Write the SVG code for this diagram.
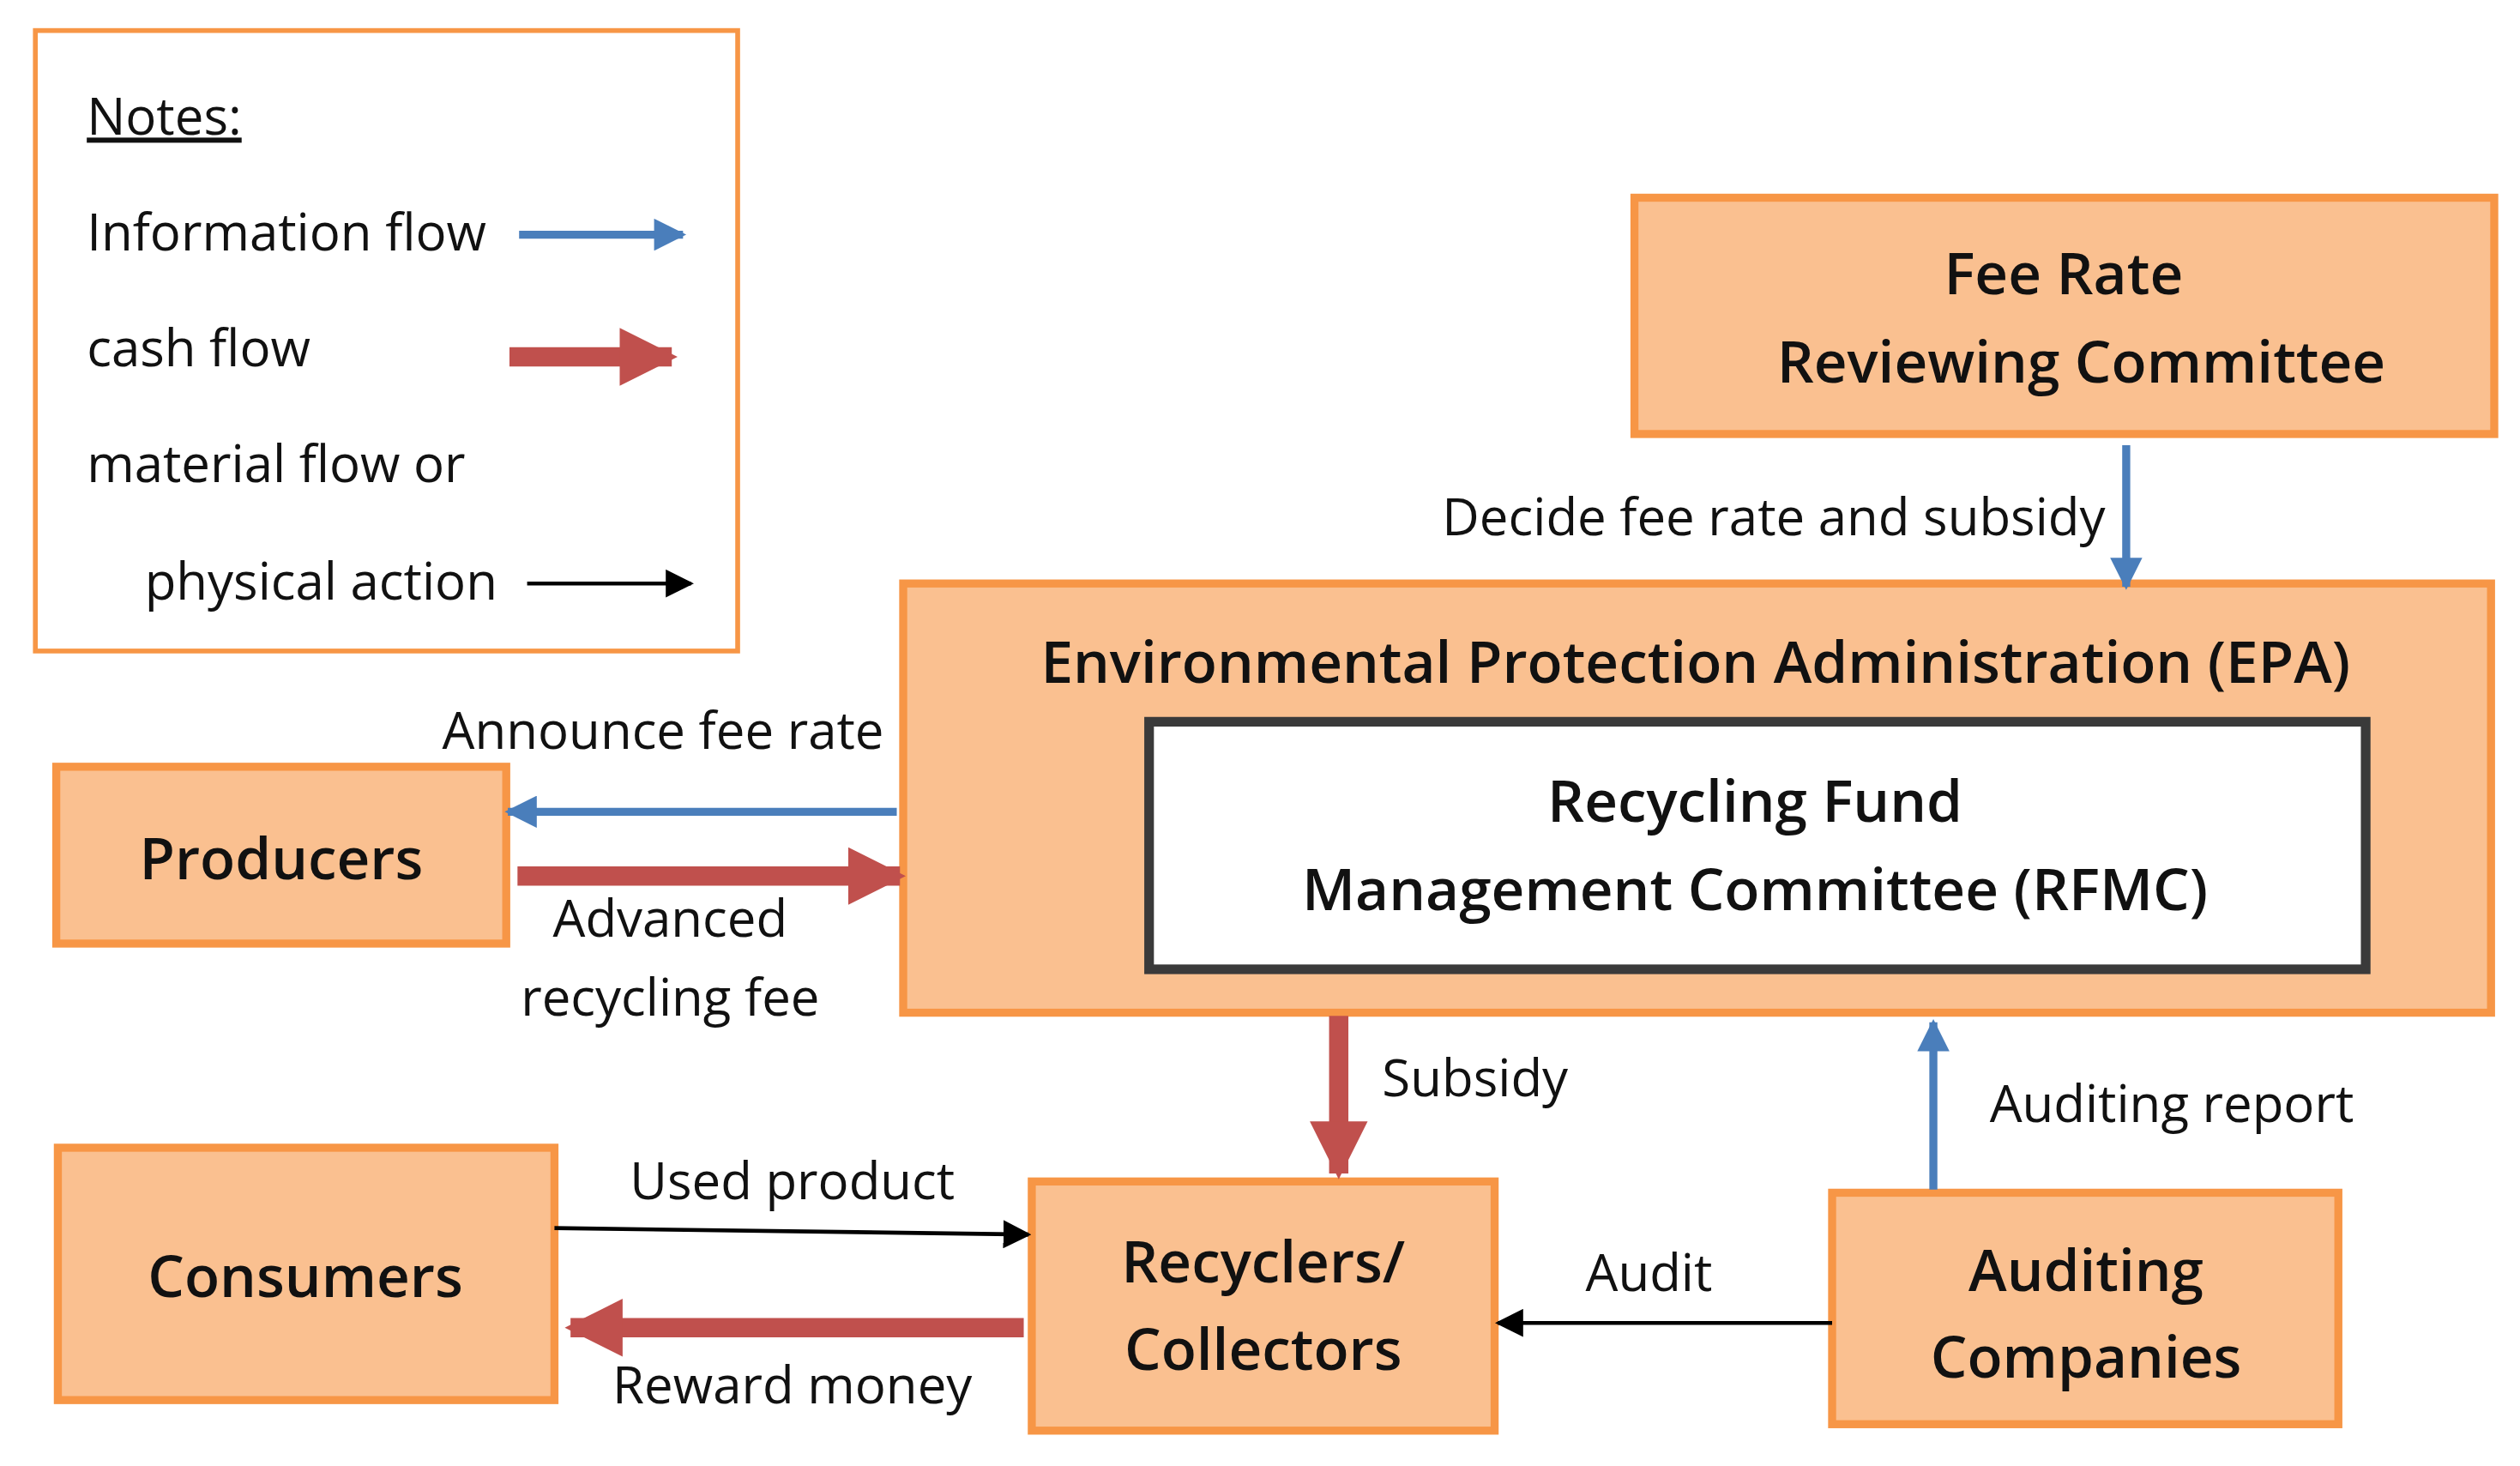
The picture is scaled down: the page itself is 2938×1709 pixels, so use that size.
<svg xmlns="http://www.w3.org/2000/svg" width="2938" height="1709" viewBox="0 0 2938 1709">
<style>
.box{fill:#FAC090;stroke:#F79646;stroke-width:5}
text{font-family:"Open Sans","Liberation Sans",sans-serif;fill:#111}
.t{font-size:36px;font-weight:600;text-anchor:middle}
.l{font-size:32px}
.blue{stroke:#4A7EBB;stroke-width:5;fill:none}
.red{stroke:#C0504D;stroke-width:12;fill:none}
.blk{stroke:#000;stroke-width:2.5;fill:none}
</style>
<defs>
<marker id="mb" viewBox="0 0 10 10" refX="9" refY="5" markerWidth="4.5" markerHeight="4" markerUnits="strokeWidth" orient="auto"><path d="M0,0L10,5L0,10z" fill="#4A7EBB"/></marker>
<marker id="mr" viewBox="0 0 10 10" refX="9" refY="5" markerWidth="3" markerHeight="3" markerUnits="strokeWidth" orient="auto"><path d="M0,0L10,5L0,10z" fill="#C0504D"/></marker>
<marker id="mk" viewBox="0 0 10 10" refX="9" refY="5" markerWidth="7" markerHeight="7" markerUnits="strokeWidth" orient="auto"><path d="M0,0L10,5L0,10z" fill="#000"/></marker>
</defs>
<rect width="2938" height="1709" fill="#fff"/>
<g transform="scale(1.8737,1.8739)">
<g id="legend">
<rect x="22" y="19" width="437" height="386" fill="#fff" stroke="#F79646" stroke-width="3"/>
<text class="l" x="54" y="84" text-decoration="underline">Notes:</text>
<text class="l" x="54" y="156">Information flow</text>
<text class="l" x="54" y="228">cash flow</text>
<text class="l" x="54" y="300">material flow or</text>
<text class="l" x="90" y="373">physical action</text>
<line class="blue" x1="323" y1="146" x2="425" y2="146" marker-end="url(#mb)"/>
<line class="red" x1="317" y1="222" x2="418" y2="222" marker-end="url(#mr)"/>
<line class="blk" x1="328" y1="363" x2="430" y2="363" marker-end="url(#mk)"/>
</g>
<g id="feerate">
<rect class="box" x="1017" y="123" width="535" height="147"/>
<text class="t" x="1284" y="183">Fee Rate</text>
<text class="t" x="1295" y="238">Reviewing Committee</text>
</g>
<g id="epa">
<rect class="box" x="562" y="363" width="988" height="267"/>
<text class="t" x="1055" y="425">Environmental Protection Administration (EPA)</text>
</g>
<g id="rfmc">
<rect x="715" y="449" width="757" height="154" fill="#fff" stroke="#3A3A3A" stroke-width="6"/>
<text class="t" x="1092" y="511">Recycling Fund</text>
<text class="t" x="1092" y="566">Management Committee (RFMC)</text>
</g>
<g id="producers">
<rect class="box" x="35" y="477" width="280" height="110"/>
<text class="t" x="175" y="547">Producers</text>
</g>
<g id="consumers">
<rect class="box" x="36" y="714" width="309" height="157"/>
<text class="t" x="190" y="807">Consumers</text>
</g>
<g id="recyclers">
<rect class="box" x="642" y="735" width="288" height="155"/>
<text class="t" x="786" y="798">Recyclers/</text>
<text class="t" x="786" y="852">Collectors</text>
</g>
<g id="auditing">
<rect class="box" x="1140" y="742" width="315" height="144"/>
<text class="t" x="1298" y="803">Auditing</text>
<text class="t" x="1298" y="857">Companies</text>
</g>
<g id="connectors">
<line class="blue" x1="1323" y1="277" x2="1323" y2="365" marker-end="url(#mb)"/>
<text class="l" x="1310" y="333" text-anchor="end">Decide fee rate and subsidy</text>
<line class="blue" x1="558" y1="505" x2="316" y2="505" marker-end="url(#mb)"/>
<text class="l" x="550" y="466" text-anchor="end">Announce fee rate</text>
<line class="red" x1="322" y1="545" x2="560" y2="545" marker-end="url(#mr)"/>
<text class="l" x="417" y="583" text-anchor="middle">Advanced</text>
<text class="l" x="417" y="632" text-anchor="middle">recycling fee</text>
<line class="red" x1="833" y1="632" x2="833" y2="730" marker-end="url(#mr)"/>
<text class="l" x="860" y="682">Subsidy</text>
<line class="blue" x1="1203" y1="740" x2="1203" y2="636" marker-end="url(#mb)"/>
<text class="l" x="1238" y="698">Auditing report</text>
<line class="blk" x1="345" y1="764" x2="640" y2="768" marker-end="url(#mk)"/>
<text class="l" x="493" y="746" text-anchor="middle">Used product</text>
<line class="red" x1="637" y1="826" x2="355" y2="826" marker-end="url(#mr)"/>
<text class="l" x="493" y="873" text-anchor="middle">Reward money</text>
<line class="blk" x1="1140" y1="823" x2="932" y2="823" marker-end="url(#mk)"/>
<text class="l" x="1026" y="803" text-anchor="middle">Audit</text>
</g>
</g>
</svg>
